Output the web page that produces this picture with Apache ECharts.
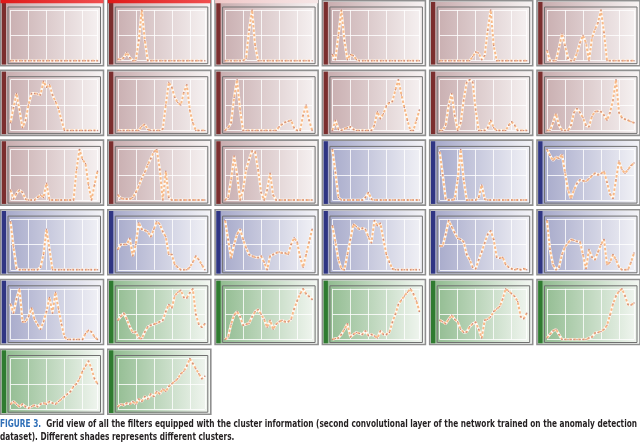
<!DOCTYPE html>
<html>
<head>
<meta charset="utf-8">
<script src="https://cdn.jsdelivr.net/npm/echarts@6/dist/echarts.min.js"></script>
<style>
html,body{margin:0;padding:0;background:#fff;}
#c{width:640px;height:445px;}
</style>
</head>
<body>
<div id="c"></div>
<script>
// cluster id of each filter panel (0 = red, 1 = blue, 2 = green)
const clusters = [0,0,0,0,0,0, 0,0,0,0,0,0, 0,0,0,1,1,1, 1,1,1,1,1,1, 1,2,2,2,2,2, 2,2];
// x positions of the filter response samples
const xIdx = [0,1,2,3,4,5,6,7,8,9,10,11,12,13,14,15,16,17,18,19,20,21,22,23,24,25,26,27,28,29];
// filter responses (normalised), one array per panel
const f01 = [0,0,0,0,0,0,0,0,0,0,0,0,0,0,0,0,0,0,0,0,0,0,0,0,0,0,0,0,0,0];
const f02 = [0.03,0.02,0.06,0.16,0.06,0,0,0.4,1.0,0.4,0,0,0,0,0,0,0,0,0,0,0,0,0,0,0,0,0,0,0,0];
const f03 = [0,0,0,0,0,0,0,0.05,0.6,1.0,0.3,0,0,0,0,0,0,0,0,0,0,0,0,0,0,0,0,0,0,0];
const f04 = [0.12,0.02,0.5,1.0,0.4,0.02,0.12,0.1,0.02,0,0,0,0,0,0,0,0,0,0,0,0,0,0,0,0,0,0,0,0,0];
const f05 = [0,0,0,0,0,0,0,0,0,0,0,0.08,0.17,0.15,0.02,0.1,0.6,1.0,0.3,0,0,0,0,0,0,0,0,0,0,0];
const f06 = [0.2,0,0,0,0.25,0.53,0.3,0.05,0,0,0.15,0.35,0.5,0.35,0,0.45,0.62,0.75,1.0,0.55,0,0,0,0,0,0,0,0,0,0];
const f07 = [0.15,0.45,0.73,0.4,0.05,0.2,0.5,0.73,0.73,0.72,0.7,0.97,0.85,0.9,0.7,0.57,0.43,0.2,0,0,0,0,0,0,0,0,0,0,0,0];
const f08 = [0,0,0,0,0,0,0,0,0.08,0.12,0.02,0,0,0,0,0.03,0.5,0.95,0.85,0.65,0.55,0.5,0.75,0.9,0.4,0.15,0,0,0,0];
const f09 = [0,0.05,0.15,0.65,1.0,0.4,0,0,0,0,0,0,0,0,0,0,0,0,0.07,0.12,0.16,0.18,0.2,0.05,0,0,0.3,0.5,0.2,0];
const f10 = [0,0.2,0.02,0,0.03,0.05,0.07,0.02,0,0,0,0,0,0,0.1,0.37,0.23,0.33,0.48,0.55,0.57,0.8,1.0,0.7,0.45,0.2,0,0,0.2,0.4];
const f11 = [0,0,0.1,0.5,0.73,0.3,0,0.15,0.6,0.95,1.0,0.95,0.4,0,0,0,0.05,0.2,0.05,0,0,0,0,0.1,0.17,0.1,0,0,0,0];
const f12 = [0,0,0.15,0.33,0.1,0,0,0,0.1,0.35,0.43,0.35,0.25,0.1,0.07,0.28,0.37,0.38,0.37,0.3,0.2,0.35,0.6,1.0,0.35,0.25,0.22,0.2,0.17,0.15];
const f13 = [0.2,0.02,0.13,0.2,0.15,0.02,0,0,0,0.05,0.1,0.05,0.33,0,0,0,0,0,0,0,0,0,0.6,1.0,0.8,0.72,0.3,0,0.3,0.57];
const f14 = [0.1,0.04,0.02,0.02,0.02,0.05,0.15,0.28,0.43,0.55,0.7,0.82,0.95,1.0,0.6,0,0.57,0.05,0,0,0,0,0,0,0,0,0,0,0,0];
const f15 = [0,0.05,0.4,0.87,0.5,0,0.2,0.6,0.8,0.97,0.95,0.6,0.15,0,0.2,0.53,0.1,0,0,0,0,0,0,0,0,0,0,0,0,0];
const f16 = [1.0,0.55,0.05,0,0,0,0,0,0,0,0,0.05,0.15,0.02,0,0,0,0,0,0,0,0,0,0,0,0,0,0,0,0];
const f17 = [0.95,0.5,0.02,0,0,0.02,0.4,1.0,0.4,0,0,0,0,0.05,0.3,0.02,0,0,0,0,0,0,0,0,0,0,0,0,0,0];
const f18 = [1.0,0.88,0.78,0.85,0.82,0.9,0.55,0.2,0.03,0.2,0.33,0.4,0.38,0.37,0.42,0.48,0.53,0.5,0.52,0.57,0.35,0.12,0.03,0.4,0.77,0.6,0.53,0.6,0.68,0.73];
const f19 = [0.95,0.45,0.03,0,0,0,0,0,0,0,0.05,0.3,0.8,0.4,0,0,0,0,0,0,0,0,0,0,0,0,0,0,0,0];
const f20 = [0.4,0.5,0.5,0.5,0.62,0.27,0.5,0.93,0.8,0.78,0.75,0.65,0.8,0.95,0.9,0.75,0.65,0.3,0.3,0.1,0.05,0,0,0,0.05,0.15,0.27,0.2,0.1,0];
const f21 = [0.97,0.6,0.23,0.5,0.7,0.8,0.6,0.43,0.3,0.27,0.25,0.24,0.27,0.15,0,0.27,0.3,0.33,0.35,0.33,0.33,0.3,0.5,0.63,0.55,0.25,0.05,0.3,0.55,0.8];
const f22 = [0.87,0.55,0.2,0.02,0,0.3,0.6,0.9,0.85,0.8,0.82,0.8,0.65,0.53,0.97,0.87,0.92,0.6,0.3,0.15,0.02,0,0,0,0,0,0,0,0,0];
const f23 = [0.47,0.47,0.7,0.97,0.85,0.73,0.62,0.6,0.55,0.3,0.2,0.05,0.02,0.2,0.35,0.53,0.7,0.77,0.6,0.25,0.23,0.25,0.1,0.05,0.02,0,0.02,0,0.02,0];
const f24 = [0.97,0.4,0.1,0,0.05,0.3,0.45,0.53,0.6,0.58,0.56,0.55,0.3,0.02,0.4,0.25,0.2,0.35,0.5,0.6,0.1,0.15,0.3,0.2,0.05,0,0,0,0.15,0.33];
const f25 = [0.7,0.52,0.8,1.0,0.35,0.35,0.45,0.62,0.4,0.3,0.2,0.35,0.55,0.83,0.52,0.93,0.6,0.3,0.05,0,0,0,0,0,0,0.12,0.18,0.15,0.05,0];
const f26 = [0.38,0.45,0.52,0.4,0.25,0.14,0.15,0.03,0.02,0.15,0.25,0.28,0.3,0.32,0.35,0.38,0.55,0.69,0.62,0.86,0.93,0.97,0.83,0.82,0.92,1.0,0.5,0.3,0.24,0.31];
const f27 = [0,0.05,0.3,0.48,0.55,0.45,0.28,0.3,0.32,0.45,0.55,0.59,0.5,0.4,0.24,0.38,0.2,0.3,0.35,0.38,0.35,0.35,0.4,0.6,0.76,0.9,1.0,0.9,0.85,0.79];
const f28 = [0,0.02,0.03,0.1,0.2,0.31,0.05,0.1,0.14,0.12,0.1,0.17,0.08,0.1,0.07,0.03,0.17,0.1,0.1,0.14,0.34,0.5,0.69,0.78,0.86,0.93,1.0,0.9,0.76,0.55];
const f29 = [0.38,0.35,0.31,0.4,0.48,0.4,0.35,0.2,0.14,0.15,0.25,0.31,0.34,0.2,0.03,0.38,0.4,0.45,0.55,0.6,0.65,0.8,1.0,0.95,0.9,0.85,0.75,0.45,0.41,0.52];
const f30 = [0.03,0.1,0.17,0.2,0.1,0,0,0,0,0,0,0,0,0,0.03,0.05,0.13,0.14,0.16,0.2,0.28,0.48,0.7,0.86,0.95,1.0,0.86,0.69,0.68,0.72];
const f31 = [0.1,0.15,0.1,0.05,0.1,0.05,0.02,0.05,0.08,0.05,0.1,0.12,0.1,0.15,0.12,0.1,0.15,0.2,0.25,0.3,0.35,0.45,0.5,0.6,0.75,0.85,0.95,0.8,0.6,0.5];
const f32 = [0.05,0.1,0.08,0.12,0.1,0.15,0.1,0.2,0.15,0.25,0.2,0.3,0.25,0.35,0.3,0.4,0.35,0.45,0.5,0.55,0.6,0.7,0.75,0.85,1.0,0.9,0.8,0.7,0.6,0.65];
const filters = [f01,f02,f03,f04,f05,f06,f07,f08,f09,f10,f11,f12,f13,f14,f15,f16,f17,f18,f19,f20,f21,f22,f23,f24,f25,f26,f27,f28,f29,f30,f31,f32];

const captionHead = 'FIGURE 3.';
const captionLine1 = 'Grid view of all the filters equipped with the cluster information (second convolutional layer of the network trained on the anomaly detection';
const captionLine2 = 'dataset). Different shades represents different clusters.';

// ---- styling / layout ----
const stripColors = ['#7b2e2e', '#2f3583', '#2f7b30'];
const bgLeft = ['#c6aaac', '#a3a6c8', '#8db98c'];
const bgRight = ['#f7f3f3', '#f3f3f7', '#f3f7f2'];
const COLS = 6, PITCH_X = 107.3, PITCH_Y = 69.7, X0 = 0.5, Y0 = 0.7;
const PW = 103, PH = 65;

const grids = [], xAxes = [], yAxes = [], series = [], graphics = [];
filters.forEach((vals, p) => {
  const c = p % COLS, r = Math.floor(p / COLS);
  const L = X0 + c * PITCH_X, T = Y0 + r * PITCH_Y;
  const cl = clusters[p];
  graphics.push({type:'rect', z:-10, silent:true,
    shape:{x:L+1, y:T+1, width:PW-2, height:PH-2},
    style:{fill:new echarts.graphic.LinearGradient(0,0,1,0,[{offset:0,color:bgLeft[cl]},{offset:1,color:bgRight[cl]}])}});
  graphics.push({type:'rect', z:-9, silent:true,
    shape:{x:L+1.2, y:T+1.2, width:4.3, height:PH-2.4},
    style:{fill:stripColors[cl]}});
  graphics.push({type:'rect', z:20, silent:true,
    shape:{x:L, y:T, width:PW, height:PH},
    style:{fill:null, stroke:'#8f8f8f', lineWidth:1.6}});
  graphics.push({type:'rect', z:20, silent:true,
    shape:{x:L+7.5, y:T+6.3, width:92.5, height:56.7},
    style:{fill:null, stroke:'#707070', lineWidth:1}});
  if (p < 3) {
    graphics.push({type:'rect', z:21, silent:true,
      shape:{x:L, y:T-0.7, width:PW, height:3.2},
      style:{fill:new echarts.graphic.LinearGradient(0,0,1,0,[
        {offset:0,color:p===2?'#f0c8c8':'#e01818'},{offset:1,color:p===2?'#f6e6e6':'#f05050'}])}});
  }
  grids.push({left:L+10, top:T+9.3, width:87, height:50.7});
  xAxes.push({type:'value', gridIndex:p, min:0, max:29, interval:6,
    axisLine:{show:false}, axisTick:{show:false}, axisLabel:{show:false},
    splitLine:{show:true, lineStyle:{color:'rgba(255,255,255,0.8)', width:1}}});
  yAxes.push({type:'value', gridIndex:p, min:0, max:1, interval:0.5,
    axisLine:{show:false}, axisTick:{show:false}, axisLabel:{show:false},
    splitLine:{show:true, lineStyle:{color:'rgba(255,255,255,0.8)', width:1}}});
  const data = vals.map((v,i)=>[xIdx[i], v]);
  series.push({type:'line', xAxisIndex:p, yAxisIndex:p, data, silent:true,
    symbol:'none', lineStyle:{color:'#fffaf4', width:2.6}, z:3, animation:false});
  series.push({type:'line', xAxisIndex:p, yAxisIndex:p, data, silent:true,
    symbol:'circle', symbolSize:1.5, itemStyle:{color:'#c98a80'},
    lineStyle:{color:'#f7b988', width:2, type:[2.5,2]}, z:4, animation:false});
});

// caption: measured and horizontally condensed to fit the page width
const FF = '"Liberation Sans Narrow","DejaVu Sans Condensed","Liberation Sans",sans-serif';
const FS = 10.5;
const mctx = document.createElement('canvas').getContext('2d');
mctx.font = 'bold ' + FS + 'px ' + FF;
const wHead = mctx.measureText(captionHead + '  ').width;
const wLine1 = mctx.measureText(captionLine1).width;
const sx = 637 / (wHead + wLine1);
const capStyle = (t, col) => ({text:t, fill:col, font:'bold ' + FS + 'px ' + FF, textVerticalAlign:'top'});
graphics.push({type:'text', x:0, y:419, scaleX:sx, style:capStyle(captionHead, '#2f6fb7')});
graphics.push({type:'text', x:wHead*sx, y:419, scaleX:sx, style:capStyle(captionLine1, '#231f20')});
graphics.push({type:'text', x:0, y:432, scaleX:sx, style:capStyle(captionLine2, '#231f20')});

const chart = echarts.init(document.getElementById('c'), null, {renderer:'canvas'});
chart.setOption({
  animation:false,
  backgroundColor:'#ffffff',
  grid:grids, xAxis:xAxes, yAxis:yAxes, series, graphic:graphics
});
</script>
</body>
</html>
